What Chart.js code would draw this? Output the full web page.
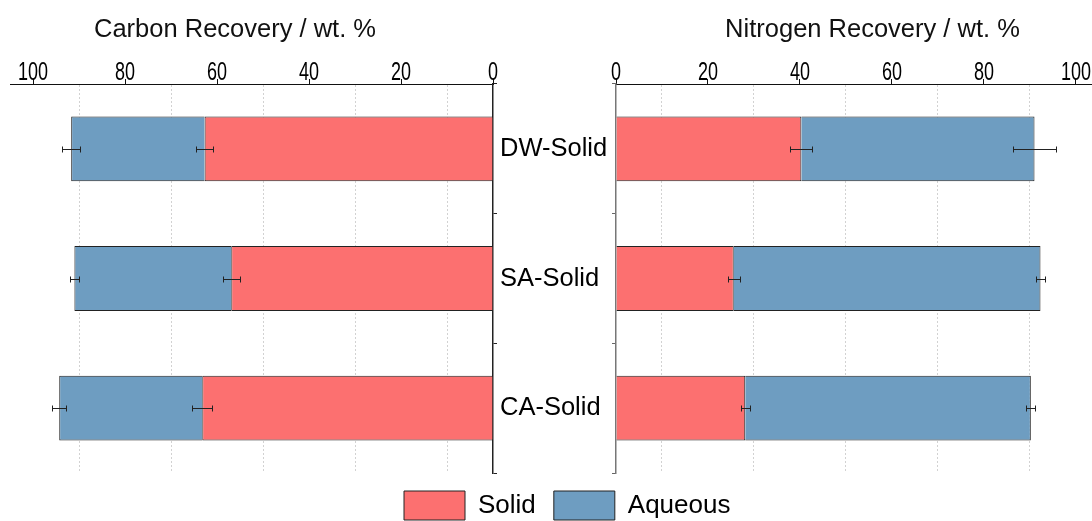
<!DOCTYPE html>
<html>
<head>
<meta charset="utf-8">
<script src="https://cdn.jsdelivr.net/npm/chart.js@4.4.1/dist/chart.umd.min.js"></script>
<style>
  html, body { margin: 0; padding: 0; background: #fff; overflow: hidden; width: 1092px; height: 521px; }
  #wrap { position: relative; width: 1092px; height: 521px; }
  #carbon { position: absolute; left: 0; top: 0; }
  #nitrogen { position: absolute; left: 386px; top: 0; }
</style>
</head>
<body>
<div id="wrap">
  <canvas id="carbon" width="620" height="530"></canvas>
  <canvas id="nitrogen" width="706" height="530"></canvas>
</div>
<script>
// Recovery of carbon and nitrogen (wt. %) in the solid and aqueous fractions
const categories = ['DW-Solid', 'SA-Solid', 'CA-Solid'];

const carbonSolid      = [62.7, 56.9, 63.2];
const carbonAqueous    = [29.0, 34.1, 31.1];
const carbonSolidErr   = [1.8, 1.8, 2.2];
const carbonAqueousErr = [2.0, 0.95, 1.5];

const nitrogenSolid      = [40.3, 25.6, 28.1];
const nitrogenAqueous    = [50.7, 66.7, 62.1];
const nitrogenSolidErr   = [2.4, 1.3, 1.0];
const nitrogenAqueousErr = [4.6, 0.95, 1.0];

const axisTicks = [0, 10, 20, 30, 40, 50, 60, 70, 80, 90, 100];
const labelledTicks = [0, 20, 40, 60, 80, 100];

const SOLID_FILL = 'rgb(252,112,112)';
const AQUEOUS_FILL = 'rgb(110,157,193)';
const SANS = "'Liberation Sans', Arial, sans-serif";

// whiskers at the end of each stacked segment
const errorBars = {
  id: 'errorBars',
  afterDatasetsDraw(chart, args, opts) {
    const ctx = chart.ctx;
    const xs = chart.scales.x;
    ctx.save();
    ctx.strokeStyle = opts.color;
    ctx.lineWidth = 1;
    chart.data.datasets.forEach((ds, d) => {
      const meta = chart.getDatasetMeta(d);
      meta.data.forEach((bar, i) => {
        let end = 0;
        for (let k = 0; k <= d; k++) end += chart.data.datasets[k].data[i];
        const e = ds.errors[i];
        const x1 = Math.round(xs.getPixelForValue(end - e)) + 0.5;
        const x2 = Math.round(xs.getPixelForValue(end + e)) + 0.5;
        const y = Math.round(bar.y) + 0.5;
        ctx.beginPath();
        ctx.moveTo(x1, y); ctx.lineTo(x2, y);
        ctx.moveTo(x1, y - opts.cap); ctx.lineTo(x1, y + opts.cap);
        ctx.moveTo(x2, y - opts.cap); ctx.lineTo(x2, y + opts.cap);
        ctx.stroke();
      });
    });
    ctx.restore();
  }
};

// condensed numerals above the tick marks of the value axis
const condensedTicks = {
  id: 'condensedTicks',
  afterDraw(chart, args, opts) {
    const ctx = chart.ctx;
    const xs = chart.scales.x;
    ctx.save();
    ctx.font = opts.font;
    ctx.fillStyle = opts.color;
    ctx.textAlign = 'center';
    ctx.textBaseline = 'alphabetic';
    labelledTicks.forEach(v => {
      ctx.save();
      ctx.translate(xs.getPixelForValue(v), xs.bottom - opts.gap);
      ctx.scale(opts.squeeze, 1);
      ctx.fillText(String(v), 0, 0);
      ctx.restore();
    });
    ctx.restore();
  }
};

// heading above each value axis
const caption = {
  id: 'caption',
  afterDraw(chart, args, opts) {
    const ctx = chart.ctx;
    ctx.save();
    ctx.font = opts.font;
    ctx.fillStyle = opts.color;
    ctx.textAlign = 'center';
    ctx.textBaseline = 'alphabetic';
    ctx.fillText(opts.text, opts.x, opts.y);
    ctx.restore();
  }
};

function valueAxis(reverse, max) {
  return {
    type: 'linear',
    position: 'top',
    reverse: reverse,
    min: 0,
    max: max,
    stacked: true,
    afterBuildTicks: s => { s.ticks = axisTicks.map(v => ({ value: v })); },
    afterFit: s => { s.height = 84; },
    ticks: { display: false },
    grid: {
      lineWidth: 1,
      tickLength: 5,
      color: c => (c.tick && c.tick.value % 20 === 10 ? '#d2d2d2' : 'rgba(0,0,0,0)'),
      tickColor: c => (c.tick && c.tick.value % 20 === 0 ? '#111' : 'rgba(0,0,0,0)')
    },
    border: { display: true, color: '#111', width: 1, dash: [2, 2] }
  };
}

function datasets(solid, aqueous, solidErr, aqueousErr) {
  const common = { borderColor: '#222', borderWidth: 1, categoryPercentage: 0.5, barPercentage: 1.0 };
  return [
    Object.assign({ label: 'Solid', data: solid, errors: solidErr, backgroundColor: SOLID_FILL }, common),
    Object.assign({ label: 'Aqueous', data: aqueous, errors: aqueousErr, backgroundColor: AQUEOUS_FILL }, common)
  ];
}

const tickText = { font: "25px " + SANS, color: '#000', gap: 4, squeeze: 0.72 };

new Chart(document.getElementById('carbon'), {
  type: 'bar',
  data: { labels: categories, datasets: datasets(carbonSolid, carbonAqueous, carbonSolidErr, carbonAqueousErr) },
  options: {
    indexAxis: 'y',
    responsive: false,
    animation: false,
    events: [],
    layout: { padding: { left: 10, right: 0, top: 0, bottom: 57 } },
    scales: {
      x: valueAxis(true, 105),
      y: {
        type: 'category',
        position: 'right',
        stacked: true,
        afterFit: s => { s.width = 127; },
        ticks: { color: '#000', font: { family: SANS, size: 25.5 }, crossAlign: 'near', padding: 3 },
        grid: { drawOnChartArea: false, tickLength: 4, tickColor: '#222', offset: true },
        border: { color: '#222', width: 1.5 }
      }
    },
    plugins: {
      legend: { display: false },
      tooltip: { enabled: false },
      errorBars: { color: '#222', cap: 3 },
      condensedTicks: tickText,
      caption: { text: 'Carbon Recovery / wt. %', x: 235, y: 37, font: "25.5px " + SANS, color: '#111' }
    }
  },
  plugins: [errorBars, condensedTicks, caption]
});

new Chart(document.getElementById('nitrogen'), {
  type: 'bar',
  data: { labels: categories, datasets: datasets(nitrogenSolid, nitrogenAqueous, nitrogenSolidErr, nitrogenAqueousErr) },
  options: {
    indexAxis: 'y',
    responsive: false,
    animation: false,
    events: [],
    layout: { padding: 0 },
    scales: {
      x: valueAxis(false, 103.5),
      y: {
        type: 'category',
        position: 'left',
        stacked: true,
        afterFit: s => { s.width = 230; },
        ticks: { display: false },
        grid: { drawOnChartArea: false, tickLength: 4, tickColor: '#666', offset: true },
        border: { color: '#777', width: 1.5 }
      }
    },
    plugins: {
      legend: {
        position: 'bottom',
        align: 'start',
        labels: { boxWidth: 61, boxHeight: 29, padding: 18, color: '#000', font: { family: SANS, size: 26 } }
      },
      tooltip: { enabled: false },
      errorBars: { color: '#222', cap: 3 },
      condensedTicks: tickText,
      caption: { text: 'Nitrogen Recovery / wt. %', x: 486.5, y: 37, font: "25.5px " + SANS, color: '#111' }
    }
  },
  plugins: [errorBars, condensedTicks, caption]
});
</script>
</body>
</html>
